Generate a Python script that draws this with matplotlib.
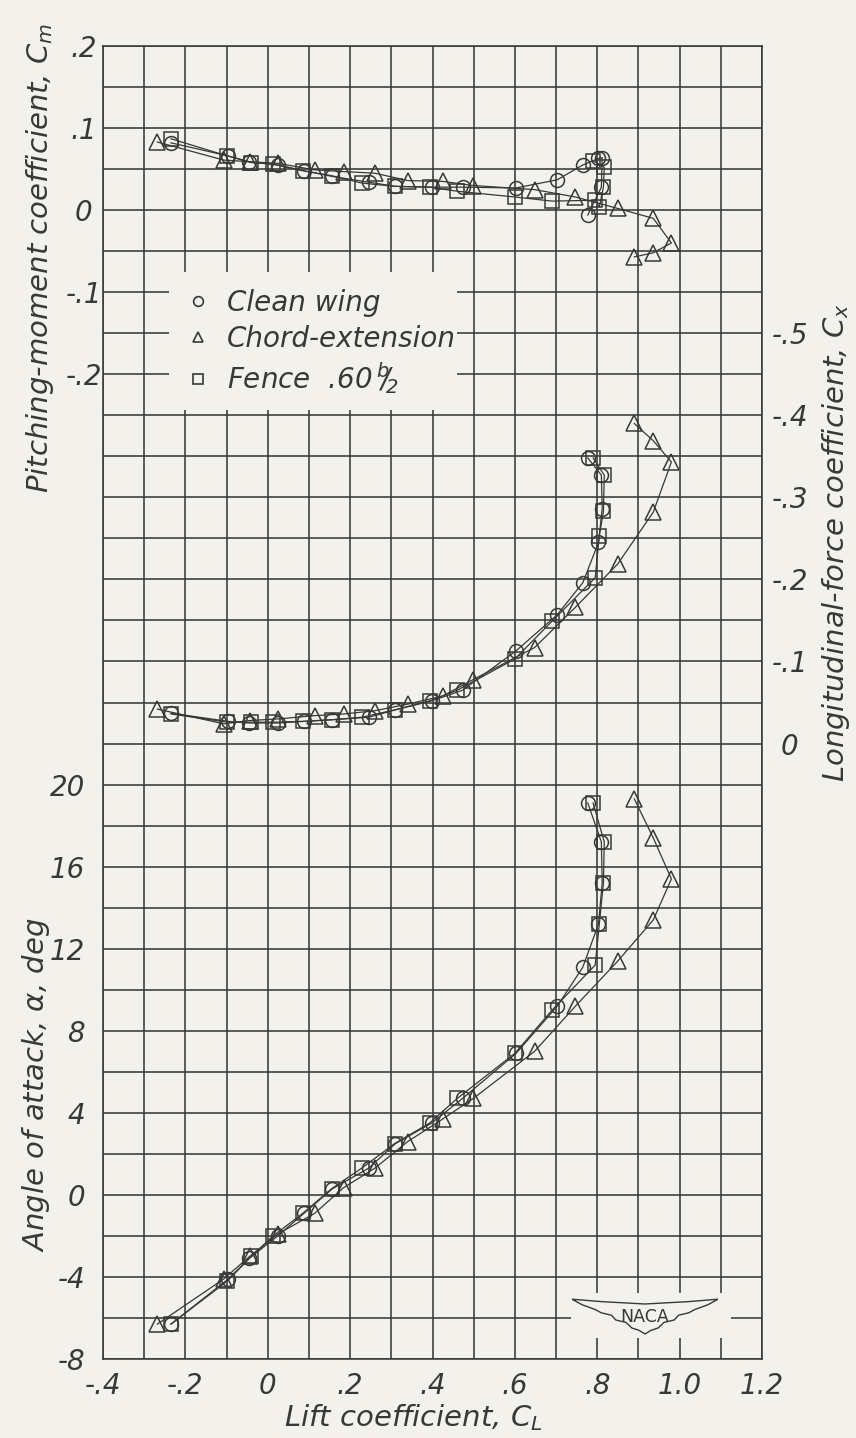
import numpy as np
import matplotlib.pyplot as plt
from matplotlib.lines import Line2D
from matplotlib.patches import Rectangle, Polygon

# clean wing
cl_clean = [-0.235, -0.096, -0.045, 0.024, 0.088, 0.157, 0.245, 0.31, 0.398, 0.473,
            0.603, 0.703, 0.765, 0.803, 0.812, 0.81, 0.777]
alpha_clean = [-6.3, -4.1, -3.1, -2.0, -0.9, 0.3, 1.3, 2.5, 3.5, 4.7,
               6.9, 9.2, 11.1, 13.2, 15.2, 17.2, 19.1]
cm_clean = [0.082, 0.066, 0.059, 0.055, 0.048, 0.041, 0.034, 0.029, 0.028, 0.028,
            0.027, 0.037, 0.055, 0.063, 0.064, 0.028, -0.006]
cx_clean = [-0.037, -0.027, -0.025, -0.025, -0.027, -0.029, -0.032, -0.041, -0.052, -0.065,
            -0.113, -0.157, -0.196, -0.245, -0.286, -0.327, -0.348]

# chord-extension
cl_chord = [-0.268, -0.107, -0.044, 0.025, 0.114, 0.184, 0.26, 0.34, 0.425, 0.499,
            0.648, 0.747, 0.85, 0.936, 0.98, 0.936, 0.89]
alpha_chord = [-6.3, -4.1, -3.0, -1.9, -0.9, 0.35, 1.3, 2.6, 3.7, 4.7,
               7.0, 9.2, 11.4, 13.4, 15.4, 17.4, 19.3]
cm_chord = [0.083, 0.061, 0.059, 0.057, 0.049, 0.047, 0.045, 0.036, 0.035, 0.030,
            0.025, 0.016, 0.002, -0.010, -0.040, -0.052, -0.057]
cx_chord = [-0.042, -0.024, -0.028, -0.030, -0.034, -0.036, -0.040, -0.048, -0.058, -0.078,
            -0.117, -0.166, -0.219, -0.282, -0.343, -0.369, -0.390]

# fence .60 b/2
cl_fence = [-0.235, -0.098, -0.04, 0.013, 0.085, 0.155, 0.228, 0.308, 0.393, 0.46,
            0.60, 0.69, 0.795, 0.805, 0.815, 0.817, 0.79]
alpha_fence = [-6.3, -4.2, -3.0, -2.0, -0.9, 0.3, 1.3, 2.5, 3.5, 4.7,
               6.9, 9.0, 11.2, 13.2, 15.2, 17.2, 19.1]
cm_fence = [0.087, 0.066, 0.058, 0.056, 0.048, 0.042, 0.033, 0.029, 0.028, 0.023,
            0.016, 0.011, 0.012, 0.004, 0.028, 0.052, 0.060]
cx_fence = [-0.036, -0.026, -0.026, -0.026, -0.027, -0.029, -0.032, -0.041, -0.052, -0.065,
            -0.103, -0.149, -0.202, -0.253, -0.283, -0.327, -0.348]

labels = ["Clean wing", "Chord-extension", r"Fence  .60$\,^{b}\!\!/\!_{2}$"]

cl_ticks = [-0.4, -0.2, 0.0, 0.2, 0.4, 0.6, 0.8, 1.0, 1.2]
alpha_ticks = [-8, -4, 0, 4, 8, 12, 16, 20]
cm_ticks = [-0.2, -0.1, 0.0, 0.1, 0.2]
cx_ticks = [0.0, -0.1, -0.2, -0.3, -0.4, -0.5]

ink = "#383838"
paper = "#f3f1ec"
fs = 20
fs_lab = 21

plt.rcParams["font.family"] = ["DejaVu Sans"]
plt.rcParams["font.style"] = "italic"
plt.rcParams["mathtext.fontset"] = "dejavusans"


def lbl(v):
    s = f"{v:.1f}"
    if s in ("0.0", "-0.0"):
        return "0"
    if abs(v) < 1:
        s = s.replace("0.", ".")
    return s


fig = plt.figure(figsize=(8.56, 14.38), dpi=100, facecolor=paper)
ax = fig.add_axes([103 / 856, 79 / 1438, 659 / 856, 1313 / 1438])
ax.set_facecolor(paper)
ax.set_xlim(-0.4, 1.2)
ax.set_ylim(-8, 56)
ax.set_xticks(np.arange(-0.4, 1.21, 0.1), minor=True)
ax.set_yticks(np.arange(-8, 57, 2), minor=True)
ax.set_xticks(cl_ticks)
ax.set_xticklabels([lbl(v) for v in cl_ticks])
ax.set_yticks(alpha_ticks)
ax.set_yticklabels([str(v) for v in alpha_ticks])
ax.grid(which="both", color=ink, lw=1.15)
ax.tick_params(which="both", length=0, labelsize=fs, labelcolor=ink)
ax.tick_params(axis="x", pad=9)
ax.tick_params(axis="y", pad=13)
for s in ax.spines.values():
    s.set_color(ink)
    s.set_linewidth(1.15)

# pitching moment, same x, own scale on the left
ax_cm = ax.twinx()
ax_cm.set_ylim(-1.4, 0.2)
ax_cm.yaxis.tick_left()
ax_cm.set_yticks(cm_ticks)
ax_cm.set_yticklabels([lbl(v) for v in cm_ticks])
ax_cm.tick_params(length=0, labelsize=fs, labelcolor=ink, pad=14)
plt.setp(ax_cm.get_yticklabels(), ha="center")

# longitudinal force, right scale, negative upward
ax_cx = ax.twinx()
ax_cx.set_ylim(0.75, -0.85)
ax_cx.set_yticks(cx_ticks)
ax_cx.set_yticklabels([lbl(v) for v in cx_ticks])
ax_cx.tick_params(length=0, labelsize=fs, labelcolor=ink, pad=20)
plt.setp(ax_cx.get_yticklabels(), ha="center")

for a in (ax_cm, ax_cx):
    for s in a.spines.values():
        s.set_visible(False)

# blank patches in the grid (legend and logo)
ax_cm.add_patch(Rectangle((-0.24, -0.243), 0.70, 0.168, fc=paper, ec="none", zorder=1))
ax.add_patch(Rectangle((0.736, -6.98), 0.389, 2.2, fc=paper, ec="none", zorder=1.8))

series = [
    (cl_clean, alpha_clean, cm_clean, cx_clean, "o", 10),
    (cl_chord, alpha_chord, cm_chord, cx_chord, "^", 11),
    (cl_fence, alpha_fence, cm_fence, cx_fence, "s", 9.5),
]
for cl, al, cm, cx, m, ms in series:
    kw = dict(color=ink, lw=0.9, marker=m, ms=ms, mfc="none", mec=ink, mew=1.1, zorder=3)
    ax.plot(cl, al, **kw)
    ax_cm.plot(cl, cm, **kw)
    ax_cx.plot(cl, cx, **kw)

handles = [Line2D([], [], ls="none", marker=m, ms=7, mfc="none", mec=ink, mew=1.2)
           for m in ("o", "^", "s")]
leg = ax_cm.legend(handles, labels, loc="upper left",
                   bbox_to_anchor=(187 / 856, 1 - 289 / 1438), bbox_transform=fig.transFigure,
                   frameon=False, fontsize=fs, handlelength=0.8, handletextpad=0.65,
                   labelspacing=0.28, borderpad=0, borderaxespad=0)
for t in leg.get_texts():
    t.set_color(ink)

# NACA wing logo
lax = fig.add_axes([572 / 856, 1 - 1336 / 1438, 146 / 856, 40 / 1438])
lax.set_xlim(0, 1)
lax.set_ylim(0, 1)
lax.axis("off")
half = [(0.0, 0.92), (0.07, 0.78), (0.16, 0.66), (0.2, 0.58), (0.27, 0.52), (0.3, 0.4),
        (0.37, 0.34), (0.41, 0.2), (0.46, 0.14), (0.5, 0.05)]
outline = half + [(1 - x, y) for x, y in reversed(half)] + [(0.8, 0.86), (0.5, 0.8), (0.2, 0.86)]
lax.add_patch(Polygon(outline, closed=True, fc="none", ec=ink, lw=1.0))
lax.text(0.5, 0.47, "NACA", ha="center", va="center", fontsize=12.5, style="normal",
         color=ink)

fig.text(40 / 856, 1 - 258 / 1438, r"Pitching-moment coefficient, $C_m$", rotation=90,
         ha="center", va="center", fontsize=fs_lab, color=ink)
fig.text(36 / 856, 1 - 1085 / 1438, r"Angle of attack, $\alpha$, deg", rotation=90,
         ha="center", va="center", fontsize=fs_lab, color=ink)
fig.text(836 / 856, 1 - 542 / 1438, r"Longitudinal-force coefficient, $C_x$", rotation=90,
         ha="center", va="center", fontsize=fs_lab, color=ink)
fig.text(413 / 856, 1 - 1418 / 1438, r"Lift coefficient, $C_L$",
         ha="center", va="center", fontsize=fs_lab, color=ink)

fig.savefig("out.png", dpi=100, facecolor=paper)
